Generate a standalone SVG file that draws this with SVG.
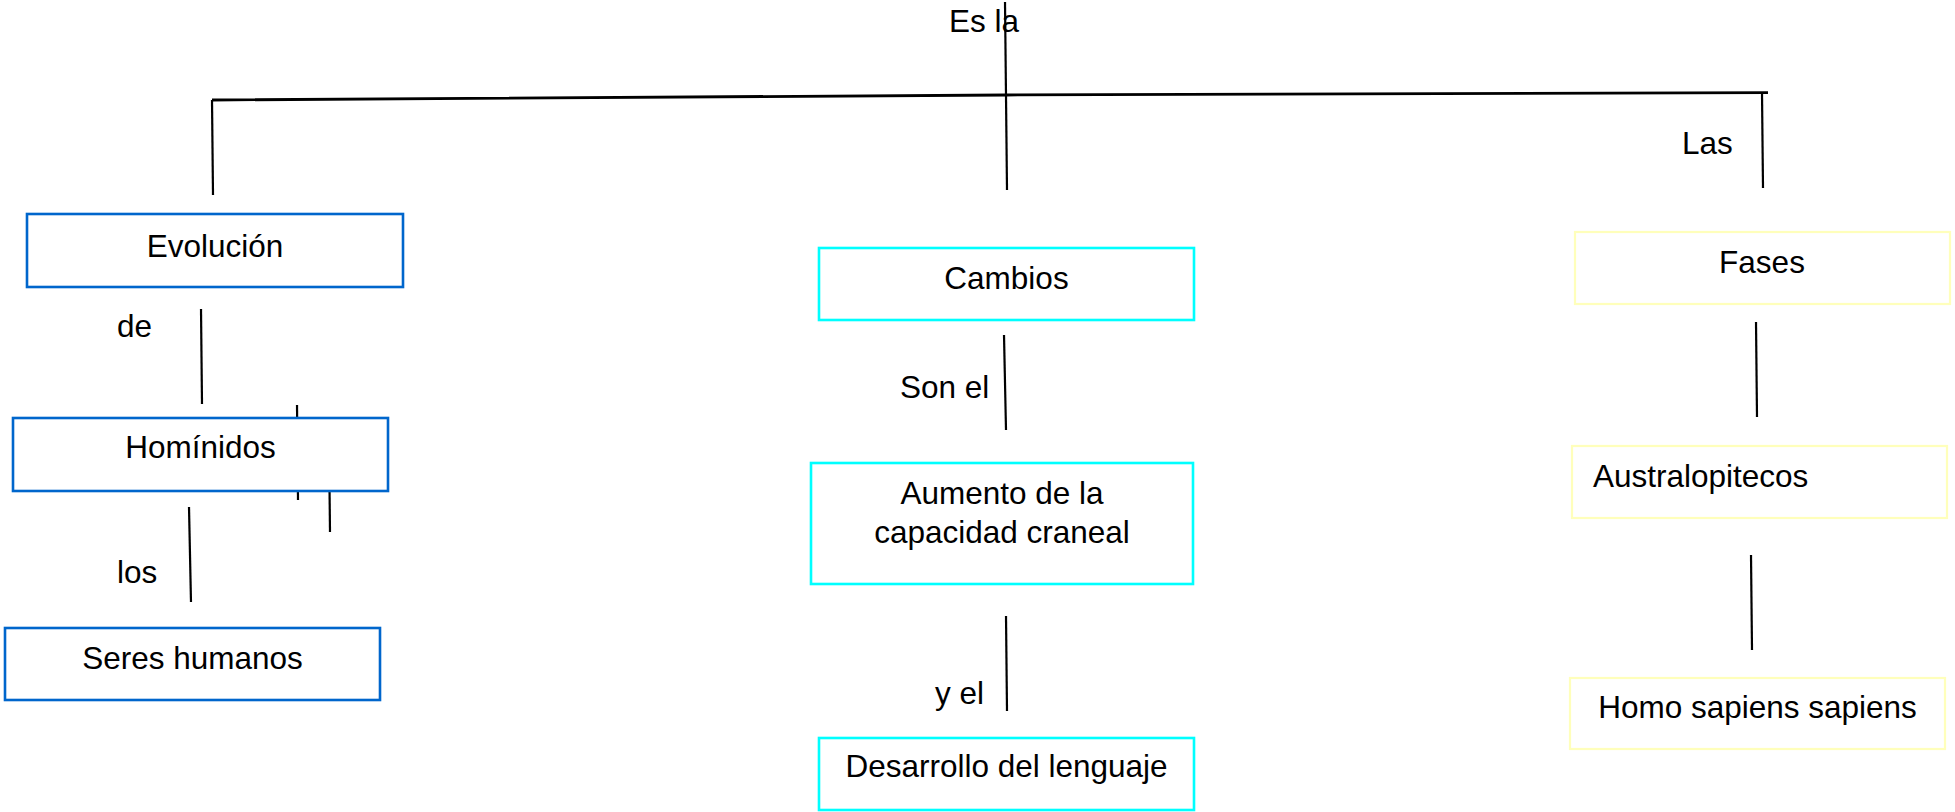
<svg xmlns="http://www.w3.org/2000/svg" width="1955" height="812" viewBox="0 0 1955 812">
<style>
.t{font-family:"Liberation Sans",Arial,sans-serif;font-size:31.5px;fill:#000}
.c{text-anchor:middle}
.ln{stroke:#000;stroke-width:2.2;fill:none}
.top{stroke:#000;stroke-width:2.8;fill:none}
.blue{fill:#fff;stroke:#0066CC;stroke-width:2.6}
.cyan{fill:#fff;stroke:#00FFFF;stroke-width:2.6}
.yel{fill:#fff;stroke:#FFFFBB;stroke-width:2.2}
</style>
<rect width="1955" height="812" fill="#fff"/>
<g id="connectors">
<path class="top" d="M212,100 L1006,95 L1768,92.7"/>
<path class="ln" d="M1005,2 L1007,190"/>
<path class="ln" d="M212,100 L213,195"/>
<path class="ln" d="M1762,93 L1763,188"/>
<path class="ln" d="M201,309 L202,404"/>
<path class="ln" d="M297,405 L298,500"/>
<path class="ln" d="M329,440 L330,532"/>
<path class="ln" d="M189,507 L191,602"/>
<path class="ln" d="M1004,335 L1006,430"/>
<path class="ln" d="M1006,616 L1007,711"/>
<path class="ln" d="M1756,322 L1757,417"/>
<path class="ln" d="M1751,555 L1752,650"/>
</g>
<g id="labels">
<text class="t" x="949" y="32">Es la</text>
<text class="t" x="1682" y="154">Las</text>
<text class="t" x="117" y="337">de</text>
<text class="t" x="117" y="583">los</text>
<text class="t" x="900" y="398">Son el</text>
<text class="t" x="935" y="704">y el</text>
</g>
<g id="evolucion"><rect class="blue" x="27" y="214" width="376" height="73"/><text class="t c" x="215" y="257">Evolución</text></g>
<g id="hominidos"><rect class="blue" x="13" y="418" width="375" height="73"/><text class="t c" x="200.5" y="458">Homínidos</text></g>
<g id="seres"><rect class="blue" x="5" y="628" width="375" height="72"/><text class="t c" x="192.5" y="669">Seres humanos</text></g>
<g id="cambios"><rect class="cyan" x="819" y="248" width="375" height="72"/><text class="t c" x="1006.5" y="289">Cambios</text></g>
<g id="aumento"><rect class="cyan" x="811" y="463" width="382" height="121"/><text class="t c" x="1002" y="504">Aumento de la</text><text class="t c" x="1002" y="543">capacidad craneal</text></g>
<g id="desarrollo"><rect class="cyan" x="819" y="738" width="375" height="72"/><text class="t c" x="1006.5" y="777">Desarrollo del lenguaje</text></g>
<g id="fases"><rect class="yel" x="1575" y="232" width="375" height="72"/><text class="t c" x="1762" y="273">Fases</text></g>
<g id="australopitecos"><rect class="yel" x="1572" y="446" width="375" height="72"/><text class="t" x="1593" y="487">Australopitecos</text></g>
<g id="homo"><rect class="yel" x="1570" y="678" width="375" height="71"/><text class="t c" x="1757.5" y="718">Homo sapiens sapiens</text></g>
</svg>
